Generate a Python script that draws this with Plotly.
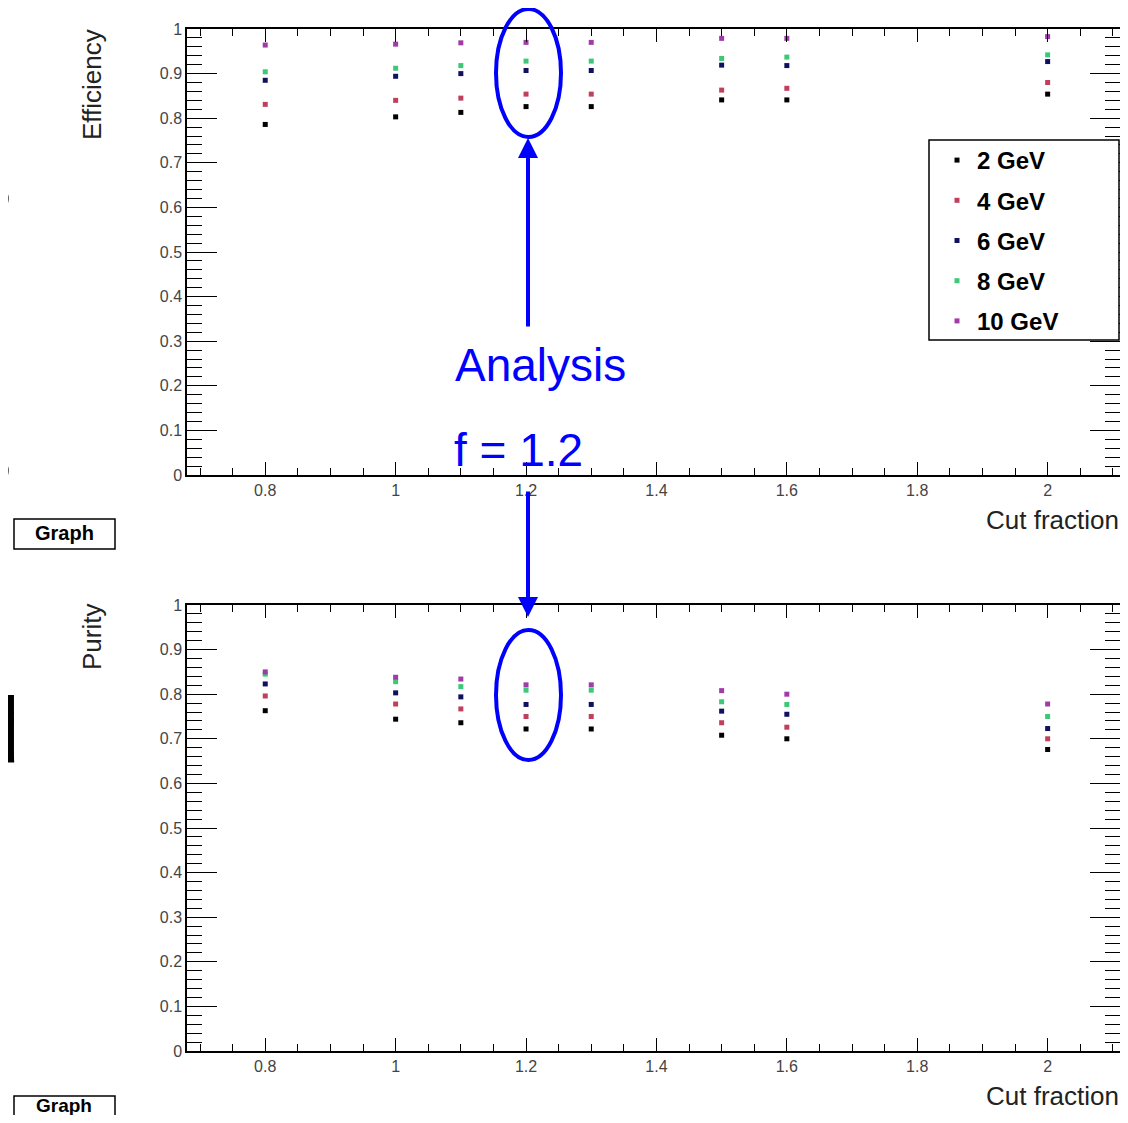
import plotly.graph_objects as go

# ---------------- data ----------------
cut_fraction = [0.8, 1.0, 1.1, 1.2, 1.3, 1.5, 1.6, 2.0]
series_names = ["2 GeV", "4 GeV", "6 GeV", "8 GeV", "10 GeV"]

eff_2 = [0.786, 0.803, 0.813, 0.826, 0.826, 0.841, 0.841, 0.854]
eff_4 = [0.831, 0.840, 0.845, 0.854, 0.854, 0.863, 0.867, 0.880]
eff_6 = [0.885, 0.894, 0.900, 0.907, 0.907, 0.919, 0.918, 0.927]
eff_8 = [0.904, 0.912, 0.918, 0.928, 0.928, 0.934, 0.937, 0.942]
eff_10 = [0.964, 0.966, 0.969, 0.970, 0.970, 0.979, 0.979, 0.983]

pur_2 = [0.763, 0.744, 0.736, 0.722, 0.722, 0.708, 0.700, 0.676]
pur_4 = [0.796, 0.778, 0.767, 0.750, 0.750, 0.736, 0.726, 0.700]
pur_6 = [0.823, 0.803, 0.794, 0.777, 0.777, 0.762, 0.755, 0.723]
pur_8 = [0.845, 0.828, 0.817, 0.809, 0.809, 0.783, 0.777, 0.750]
pur_10 = [0.850, 0.838, 0.834, 0.821, 0.821, 0.808, 0.800, 0.778]

efficiency = [eff_2, eff_4, eff_6, eff_8, eff_10]
purity = [pur_2, pur_4, pur_6, pur_8, pur_10]
colors = ["#000000", "#c0405c", "#101060", "#3cc878", "#a03ca8"]

# ---------------- layout helpers ----------------
# the page body adds an 8 px margin; the figure is sized so that it fits the window
OFF = 8
W, H = 1112, 1107


def px(x):
    return (x - OFF) / W


def py(y):
    return 1 - (y - OFF) / H


BLUE = "#0000ff"
FONT = "Liberation Sans"

fig = go.Figure()

for name, vals, col in zip(series_names, efficiency, colors):
    fig.add_trace(go.Scatter(
        x=cut_fraction, y=vals, mode="markers", name=name,
        marker=dict(symbol="square", size=5, color=col),
        xaxis="x", yaxis="y", legendgroup=name, showlegend=True))

for name, vals, col in zip(series_names, purity, colors):
    fig.add_trace(go.Scatter(
        x=cut_fraction, y=vals, mode="markers", name=name,
        marker=dict(symbol="square", size=5, color=col),
        xaxis="x2", yaxis="y2", legendgroup=name, showlegend=False))

x_left, x_right = 187, 1120
x_max = 0.68 + (x_right - x_left) / 652.0
xdom = [px(x_left), min(1.0, px(x_right))]

xcommon = dict(
    range=[0.68, x_max], showline=True, linecolor="black", linewidth=1.5,
    mirror="ticks", ticks="inside", ticklen=13, tickwidth=1.2, tickcolor="black",
    dtick=0.2, tick0=0, showgrid=False, zeroline=False, automargin=False,
    tickfont=dict(family=FONT, size=16, color="#444444"),
    minor=dict(dtick=0.05, ticks="inside", ticklen=7, tickcolor="black", showgrid=False),
)
ycommon = dict(
    range=[0, 1], showline=True, linecolor="black", linewidth=1.5,
    mirror="ticks", ticks="inside", ticklen=30, tickwidth=1.2, tickcolor="black",
    dtick=0.1, tick0=0, showgrid=False, zeroline=False, automargin=False,
    tickfont=dict(family=FONT, size=16, color="#444444"),
    minor=dict(dtick=0.02, ticks="inside", ticklen=15, tickcolor="black", showgrid=False),
)

fig.update_layout(
    width=W, height=H,
    margin=dict(l=0, r=0, t=0, b=0, autoexpand=False),
    paper_bgcolor="white", plot_bgcolor="white",
    xaxis=dict(domain=xdom, anchor="y", **xcommon),
    yaxis=dict(domain=[py(475), py(29)], anchor="x", **ycommon),
    xaxis2=dict(domain=xdom, anchor="y2", **xcommon),
    yaxis2=dict(domain=[py(1051), py(605)], anchor="x2", **ycommon),
    showlegend=True,
    legend=dict(
        x=px(937), y=py(138), xanchor="left", yanchor="top",
        bgcolor="rgba(0,0,0,0)", borderwidth=0,
        font=dict(family=FONT, size=24, color="black", weight="bold"),
        tracegroupgap=6, itemsizing="trace",
    ),
)

shapes = [
    # legend frame
    dict(type="rect", xref="paper", yref="paper", x0=px(929), x1=px(1119), y0=py(340), y1=py(140),
         line=dict(color="black", width=1.5), fillcolor="white", layer="above"),
    # ellipses
    dict(type="circle", xref="paper", yref="paper", x0=px(496), x1=px(561), y0=py(137), y1=py(9),
         line=dict(color=BLUE, width=4)),
    dict(type="circle", xref="paper", yref="paper", x0=px(496), x1=px(561), y0=py(760), y1=py(630),
         line=dict(color=BLUE, width=4)),
    # Graph title boxes
    dict(type="rect", xref="paper", yref="paper", x0=px(14), x1=px(115), y0=py(549), y1=py(519),
         line=dict(color="black", width=1.5), fillcolor="white"),
    dict(type="rect", xref="paper", yref="paper", x0=px(14), x1=px(115), y0=py(1126), y1=py(1096),
         line=dict(color="black", width=1.5), fillcolor="white"),
]
fig.update_layout(shapes=shapes)

ann = []


def text(t, x, y, size, color="black", xanchor="center", yanchor="middle", angle=0, bold=False, family=FONT):
    ann.append(dict(text=t, x=px(x), y=py(y), xref="paper", yref="paper", showarrow=False,
                    xanchor=xanchor, yanchor=yanchor, textangle=angle,
                    font=dict(family=family, size=size, color=color, weight="bold" if bold else "normal")))


# axis titles
text("Efficiency", 92, 85, 26, color="#222222", angle=-90)
text("Purity", 92, 637, 26, color="#222222", angle=-90)
text("Cut fraction", 1121, 520, 26, color="#222222", xanchor="right")
text("Cut fraction", 1121, 1096, 26, color="#222222", xanchor="right")
# Graph titles
text("Graph", 64, 533, 20, bold=True)
text("Graph", 64, 1105, 19, bold=True)
# Analysis annotation
text("Analysis", 540, 365, 46, color=BLUE)
text("f = 1.2", 519, 450, 46, color=BLUE)
# slide text cut at the left edge
text("s", 14, 180, 92, xanchor="right")
text("n", 13, 367, 92, xanchor="right")
text("s", 14, 452, 92, xanchor="right")
text("d", 22, 730, 92, xanchor="right")

# arrows
ann.append(dict(x=px(528), y=py(138), ax=0, ay=190, xref="paper", yref="paper",
                axref="pixel", ayref="pixel", text="", showarrow=True, arrowhead=2,
                arrowsize=1, arrowwidth=4, arrowcolor=BLUE))
ann.append(dict(x=px(528), y=py(617), ax=0, ay=-127, xref="paper", yref="paper",
                axref="pixel", ayref="pixel", text="", showarrow=True, arrowhead=2,
                arrowsize=1, arrowwidth=4, arrowcolor=BLUE))

fig.update_layout(annotations=ann)

fig.write_html("out.html")
